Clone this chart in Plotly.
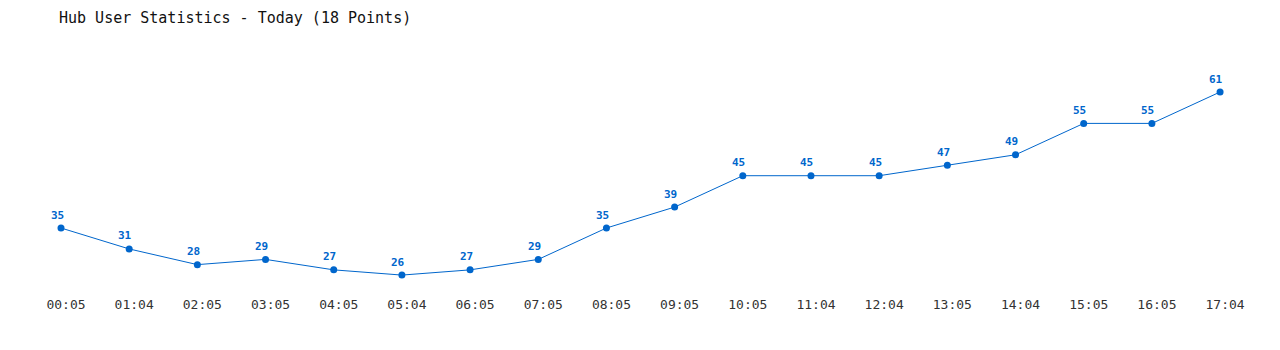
import plotly.graph_objects as go

times = ["00:05", "01:04", "02:05", "03:05", "04:05", "05:04", "06:05", "07:05", "08:05",
         "09:05", "10:05", "11:04", "12:04", "13:05", "14:04", "15:05", "16:05", "17:04"]
users = [35, 31, 28, 29, 27, 26, 27, 29, 35, 39, 45, 45, 45, 47, 49, 55, 55, 61]

idx = list(range(len(times)))
color = "#0066cc"
font = "DejaVu Sans Mono"

fig = go.Figure(go.Scatter(
    x=idx, y=users, mode="lines+markers",
    line=dict(color=color, width=1),
    marker=dict(color=color, size=7),
    hoverinfo="skip", cliponaxis=False,
))

for i, v in zip(idx, users):
    fig.add_annotation(x=i, y=v, text=str(v), showarrow=False, xshift=-4, yshift=13,
                       font=dict(family=font, size=11, color=color, weight="bold"))

fig.update_layout(
    width=1280, height=350,
    paper_bgcolor="white", plot_bgcolor="white",
    margin=dict(l=0, r=0, t=0, b=60),
    showlegend=False,
    title=dict(text="Hub User Statistics - Today (18 Points)", x=59 / 1280, xanchor="left",
               y=1 - 18 / 350, yanchor="middle",
               font=dict(family=font, size=15, color="#111111")),
)
fig.update_xaxes(range=[-0.8947, 17.879], tickvals=idx, ticktext=times, showgrid=False,
                 zeroline=False, showline=False, ticks="", ticklabelstandoff=5,
                 ticklabelshift=5,
                 tickfont=dict(family=font, size=13, color="#333333"))
fig.update_yaxes(range=[23.15, 78.59], showgrid=False, zeroline=False, showline=False,
                 showticklabels=False, ticks="")

fig.write_html("out.html")
